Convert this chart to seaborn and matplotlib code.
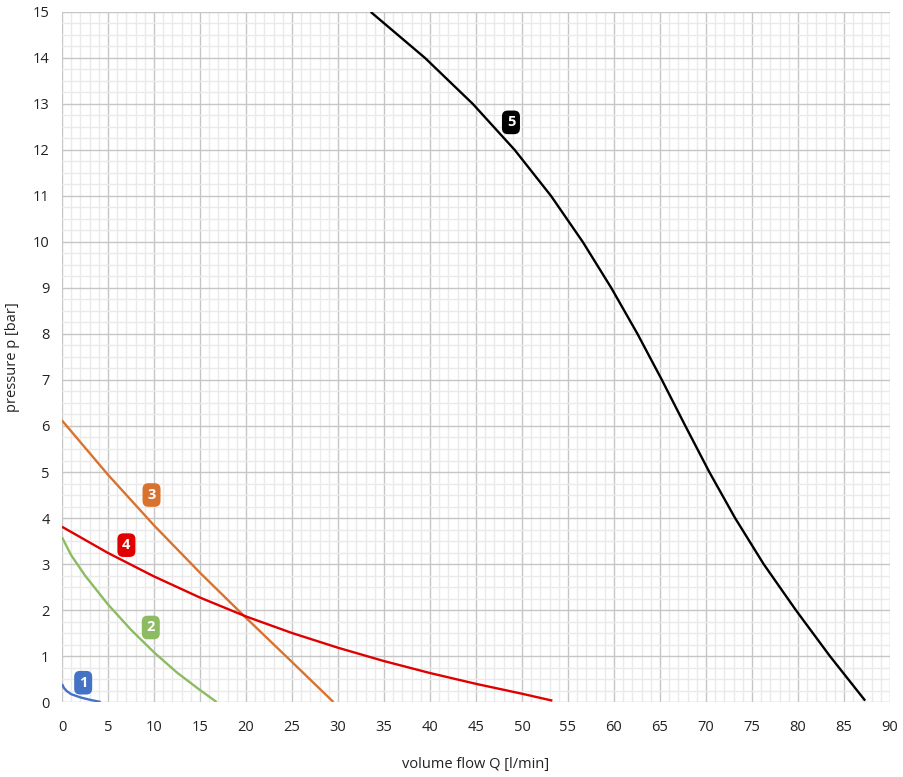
import pandas as pd
import matplotlib.pyplot as plt
import seaborn as sns
from matplotlib.ticker import MultipleLocator

# Pump curves: volume flow Q [l/min] vs pressure p [bar]
q1 = [0.0, 0.2, 0.5, 1.0, 2.0, 3.0, 4.2]
p1 = [0.39, 0.31, 0.24, 0.17, 0.1, 0.05, 0.0]

q2 = [0.0, 1.0, 2.5, 5.0, 7.5, 10.0, 12.5, 15.0, 16.8]
p2 = [3.58, 3.19, 2.75, 2.12, 1.57, 1.08, 0.64, 0.26, 0.0]

q3 = [0.0, 5.0, 10.0, 15.0, 20.0, 25.0, 29.5]
p3 = [6.12, 4.94, 3.84, 2.81, 1.83, 0.87, 0.0]

q4 = [0.0, 5.0, 10.0, 15.0, 20.0, 25.0, 30.0, 35.0, 40.0, 45.0, 50.0, 53.3]
p4 = [3.81, 3.24, 2.73, 2.27, 1.86, 1.5, 1.18, 0.89, 0.63, 0.395, 0.18, 0.03]

q5 = [33.56, 39.46, 44.66, 49.21, 53.16, 56.61, 59.71, 62.56, 65.21, 67.76, 70.36,
      73.16, 76.26, 79.76, 83.46, 87.3]
p5 = [15.0, 14.0, 13.0, 12.0, 11.0, 10.0, 9.0, 8.0, 7.0, 6.0, 5.0,
      4.0, 3.0, 2.0, 1.0, 0.03]

names = ['1', '2', '3', '4', '5']
colors = ['#4472C4', '#8DBB62', '#D9722E', '#E00000', '#000000']
label_q = [2.3, 9.65, 9.73, 7.0, 48.8]
label_p = [0.42, 1.62, 4.5, 3.41, 12.6]

frames = []
for n, q, p in zip(names, [q1, q2, q3, q4, q5], [p1, p2, p3, p4, p5]):
    frames.append(pd.DataFrame({'Q': q, 'p': p, 'curve': n}))
data = pd.concat(frames, ignore_index=True)

sns.set_style('white')
plt.rcParams['font.family'] = ['Open Sans', 'DejaVu Sans']

fig = plt.figure(figsize=(9.04, 7.77), dpi=100)
ax = fig.add_axes([0.0686, 0.0965, 0.9159, 0.8881])

sns.lineplot(data=data, x='Q', y='p', hue='curve', palette=colors, sort=False,
             linewidth=1.7, legend=False, ax=ax)
for line in ax.get_lines():
    line.set_solid_joinstyle('round')
    line.set_solid_capstyle('butt')

# numbered tags next to each curve
for n, x, y, c in zip(names, label_q, label_p, colors):
    ax.text(x, y, n, color='white', fontsize=10.5, fontweight='bold', ha='center', va='center',
            bbox=dict(boxstyle='round,pad=0.33,rounding_size=0.4', fc=c, ec='none'), zorder=5)

ax.set_xlim(0, 90)
ax.set_ylim(0, 15)
ax.xaxis.set_major_locator(MultipleLocator(5))
ax.xaxis.set_minor_locator(MultipleLocator(1))
ax.yaxis.set_major_locator(MultipleLocator(1))
ax.yaxis.set_minor_locator(MultipleLocator(0.25))
ax.grid(which='major', color='#C6C6C6', linewidth=1)
ax.grid(which='minor', color='#EAEAEA', linewidth=1)
ax.set_axisbelow(True)
for s in ax.spines.values():
    s.set_visible(False)
ax.tick_params(which='major', length=5, color='#C6C6C6', labelsize=10.5, labelcolor='#222222', pad=4)
ax.tick_params(which='minor', length=0)
ax.tick_params(axis='x', pad=8)
ax.set_xlabel('volume flow Q [l/min]', fontsize=10.5, color='#222222', labelpad=16)
ax.set_ylabel('pressure p [bar]', fontsize=10.5, color='#222222', labelpad=9)

fig.savefig('out.png', dpi=100)
